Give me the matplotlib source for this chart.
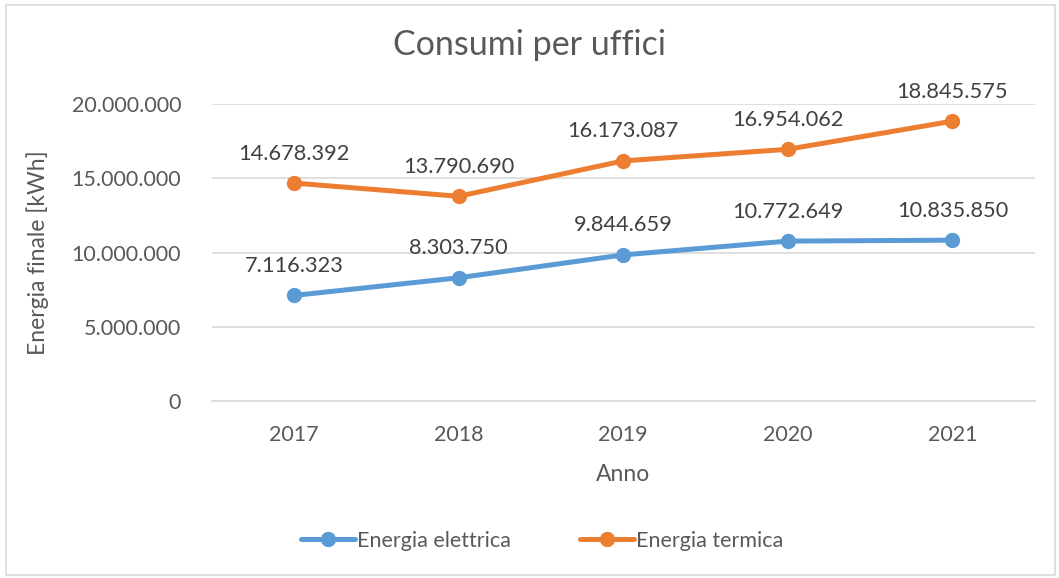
import matplotlib.pyplot as plt
from matplotlib.patches import Rectangle

plt.rcParams['font.family'] = ['Lato', 'DejaVu Sans']

anni = ['2017', '2018', '2019', '2020', '2021']
elettrica = [7116323, 8303750, 9844659, 10772649, 10835850]
termica = [14678392, 13790690, 16173087, 16954062, 18845575]
yticks = [0, 5000000, 10000000, 15000000, 20000000]

grey = '#595959'
blue = '#5B9BD5'
orange = '#ED7D31'


def fmt(v):
    # Italian thousands separator
    return f'{v:,}'.replace(',', '.')


fig = plt.figure(figsize=(10.59, 5.78), dpi=100)
fig.patches.append(Rectangle((0.006, 0.005), 0.99, 0.987, transform=fig.transFigure,
                             fill=False, edgecolor='#D9D9D9', linewidth=1.2))
ax = fig.add_axes([0.2, 0.306, 0.777, 0.514])

x = range(len(anni))
ax.plot(x, elettrica, color=blue, lw=3.6, marker='o', ms=10, label='Energia elettrica',
        solid_capstyle='round', zorder=3)
ax.plot(x, termica, color=orange, lw=3.6, marker='o', ms=10, label='Energia termica',
        solid_capstyle='round', zorder=3)

for xi, v in zip(x, elettrica):
    ax.annotate(fmt(v), (xi, v), xytext=(0, 14), textcoords='offset points',
                ha='center', va='bottom', fontsize=15.7, color='#404040')
for xi, v in zip(x, termica):
    ax.annotate(fmt(v), (xi, v), xytext=(0, 14), textcoords='offset points',
                ha='center', va='bottom', fontsize=15.7, color='#404040')

ax.set_xlim(-0.5, len(anni) - 0.5)
ax.set_ylim(0, 20000000)
ax.set_xticks(list(x))
ax.set_xticklabels(anni)
ax.set_yticks(yticks)
ax.set_yticklabels([fmt(v) for v in yticks])
ax.tick_params(length=0, labelsize=15.5, labelcolor=grey)
ax.tick_params(axis='x', pad=17)
ax.tick_params(axis='y', pad=22)
ax.grid(axis='y', color='#D9D9D9', lw=1.2)
ax.set_axisbelow(True)
for s in ['top', 'right', 'left']:
    ax.spines[s].set_visible(False)
ax.spines['bottom'].set_color('#D9D9D9')
ax.spines['bottom'].set_linewidth(1.2)

ax.set_xlabel('Anno', fontsize=16.5, color=grey, labelpad=14)
ax.set_ylabel('Energia finale [kWh]', fontsize=16.5, color=grey, labelpad=16)
fig.suptitle('Consumi per uffici', fontsize=24.5, color=grey, x=0.5, y=0.95)

fig.legend(loc='center', bbox_to_anchor=(0.512, 0.064), ncol=2, frameon=False,
           fontsize=15.5, labelcolor=grey, handlelength=2.5, columnspacing=3.2, handletextpad=0.1)

fig.savefig('out.png', dpi=100)
